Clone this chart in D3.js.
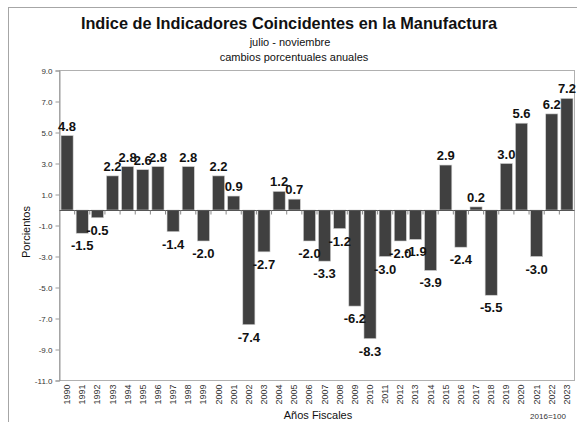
<!DOCTYPE html>
<html>
<head>
<meta charset="utf-8">
<script src="https://cdn.jsdelivr.net/npm/d3@7"></script>
<style>
  body { margin: 0; background: #fff; }
  text { font-family: Arial, "Liberation Sans", sans-serif; }
</style>
</head>
<body>
<div id="chart"></div>
<script>
/* -------------------------------------------------------------------------- */
// data
const years = d3.range(1990, 2024).map(String);
const values = [
  4.8, -1.5, -0.5, 2.2, 2.8, 2.6, 2.8, -1.4, 2.8, -2.0,
  2.2, 0.9, -7.4, -2.7, 1.2, 0.7, -2.0, -3.3, -1.2, -6.2,
  -8.3, -3.0, -2.0, -1.9, -3.9, 2.9, -2.4, 0.2, -5.5, 3.0,
  5.6, -3.0, 6.2, 7.2
];
const yTicks = [9, 7, 5, 3, 1, -1, -3, -5, -7, -9, -11];

const title = 'Indice de Indicadores Coincidentes en la Manufactura';
const subtitle1 = 'julio - noviembre';
const subtitle2 = 'cambios porcentuales anuales';

/* -------------------------------------------------------------------------- */
const W = 577, H = 422;
const plot = {left: 59.5, right: 574.5, top: 70.5, bottom: 380.5};

const svg = d3.select('#chart').append('svg')
  .attr('width', W).attr('height', H);

// outer frame
svg.append('rect')
  .attr('x', 8.5).attr('y', 7.5)
  .attr('width', W).attr('height', H)
  .attr('fill', 'none').attr('stroke', '#a6a6a6');

const x = d3.scaleBand()
  .domain(years)
  .range([plot.left, plot.right])
  .paddingInner(0.2).paddingOuter(0.1);

const y = d3.scaleLinear()
  .domain([-11, 9])
  .range([plot.bottom, plot.top]);

// plot border
svg.append('rect')
  .attr('x', plot.left).attr('y', plot.top)
  .attr('width', plot.right - plot.left).attr('height', plot.bottom - plot.top)
  .attr('fill', 'none').attr('stroke', '#b0b0b0');

// y axis
const yAxis = svg.append('g')
  .attr('transform', `translate(${plot.left},0)`)
  .call(d3.axisLeft(y).tickValues(yTicks).tickSize(4).tickFormat(d3.format('.1f')));
yAxis.select('.domain').attr('stroke', '#999');
yAxis.selectAll('.tick line').attr('stroke', '#999');
yAxis.selectAll('.tick text')
  .attr('font-size', 8).attr('fill', '#333')
  .text(d => d3.format('.1f')(d).replace('−', '-'));

// bars
svg.append('g').selectAll('rect')
  .data(values)
  .join('rect')
  .attr('x', (d, i) => x(years[i]))
  .attr('width', x.bandwidth())
  .attr('y', d => y(Math.max(0, d)))
  .attr('height', d => Math.abs(y(d) - y(0)))
  .attr('fill', '#404040')
  .attr('stroke', '#d0d0d0')
  .attr('stroke-width', 0.6);

// zero axis with category ticks
const step = x.step();
svg.append('line')
  .attr('x1', plot.left).attr('x2', plot.right)
  .attr('y1', Math.round(y(0)) + 0.5).attr('y2', Math.round(y(0)) + 0.5)
  .attr('stroke', '#555');
svg.append('g').selectAll('line')
  .data(years.slice(1))
  .join('line')
  .attr('x1', d => x(d) - step * x.paddingInner() / 2)
  .attr('x2', d => x(d) - step * x.paddingInner() / 2)
  .attr('y1', Math.round(y(0)) + 0.5)
  .attr('y2', Math.round(y(0)) + 4.5)
  .attr('stroke', '#888');

// value labels
svg.append('g').selectAll('text')
  .data(values)
  .join('text')
  .attr('x', (d, i) => x(years[i]) + x.bandwidth() / 2)
  .attr('y', d => d >= 0 ? y(d) - 5 : y(d) + 17)
  .attr('text-anchor', 'middle')
  .attr('font-size', 13).attr('font-weight', 'bold').attr('fill', '#111')
  .text(d => d.toFixed(1));

// year labels
svg.append('g').selectAll('text')
  .data(years)
  .join('text')
  .attr('transform', d => `translate(${x(d) + x.bandwidth() / 2 + 3},${plot.bottom + 4}) rotate(-90)`)
  .attr('text-anchor', 'end')
  .attr('font-size', 9).attr('fill', '#333')
  .text(d => d);

// titles
svg.append('text')
  .attr('x', 289).attr('y', 29)
  .attr('text-anchor', 'middle')
  .attr('font-size', 16.3).attr('font-weight', 'bold').attr('fill', '#111')
  .text(title);
svg.append('text')
  .attr('x', 290).attr('y', 46)
  .attr('text-anchor', 'middle')
  .attr('font-size', 11).attr('fill', '#111')
  .text(subtitle1);
svg.append('text')
  .attr('x', 294).attr('y', 61)
  .attr('text-anchor', 'middle')
  .attr('font-size', 11).attr('fill', '#111')
  .text(subtitle2);

// axis titles
svg.append('text')
  .attr('transform', 'translate(30,232) rotate(-90)')
  .attr('text-anchor', 'middle')
  .attr('font-size', 11).attr('fill', '#111')
  .text('Porcientos');
svg.append('text')
  .attr('x', 318).attr('y', 419)
  .attr('text-anchor', 'middle')
  .attr('font-size', 11).attr('fill', '#111')
  .text('Años Fiscales');
svg.append('text')
  .attr('x', 548).attr('y', 419)
  .attr('text-anchor', 'middle')
  .attr('font-size', 8).attr('fill', '#333')
  .text('2016=100');
</script>
</body>
</html>
